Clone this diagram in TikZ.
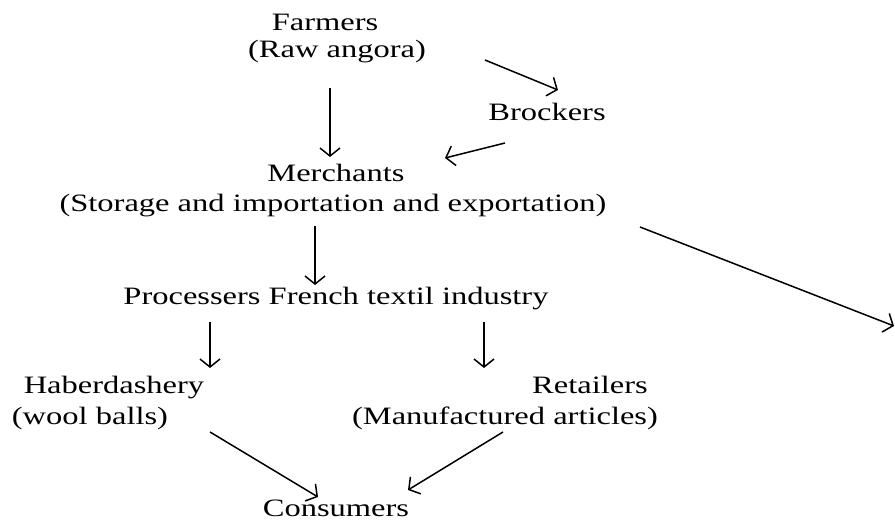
\documentclass[tikz,border=0pt]{standalone}
\usepackage{fontspec}
\setmainfont[FakeStretch=1.3]{Liberation Serif}
\usetikzlibrary{arrows.meta}
\tikzset{
  lbl/.style={anchor=base, inner sep=0pt, font=\fontsize{25}{30}\selectfont},
  arr/.style={line width=1.5pt, -{Straight Barb[length=8pt,width=20pt,line width=1.5pt]}}
}
\begin{document}
\begin{tikzpicture}[x=1pt,y=-1pt]
\useasboundingbox[fill=white] (0,0) rectangle (895,526);
\node[lbl] (farm) at (325,31) {Farmers};
\node[lbl] (farmsub) at (337,58) {(Raw angora)};
\node[lbl] (brock) at (547,121) {Brockers};
\node[lbl] (merch) at (336,182) {Merchants};
\node[lbl] (merchsub) at (333,212) {(Storage and importation and exportation)};
\node[lbl] (proc) at (336,305) {Processers French textil industry};
\node[lbl] (haber) at (114,394) {Haberdashery};
\node[lbl] (habersub) at (90,425) {(wool balls)};
\node[lbl] (retail) at (590,394) {Retailers};
\node[lbl] (retailsub) at (505,425) {(Manufactured articles)};
\node[lbl] (cons) at (336,517) {Consumers};
\coordinate (exportend) at (894,326);
% connectors
\draw[arr] ([xshift=-7pt,yshift=-30pt]farmsub.base) -- ([xshift=-6pt,yshift=25pt]merch.base);
\draw[arr] ([xshift=148pt,yshift=-2pt]farmsub.base) -- ([xshift=11pt,yshift=31pt]brock.base);
\draw[arr] ([xshift=-42pt,yshift=-22pt]brock.base) -- ([xshift=109pt,yshift=24pt]merch.base);
\draw[arr] ([xshift=-18pt,yshift=-14pt]merchsub.base) -- ([xshift=-21pt,yshift=20pt]proc.base);
\draw[arr] ([xshift=307pt,yshift=-15pt]merchsub.base) -- (exportend);
\draw[arr] ([xshift=-126pt,yshift=-17pt]proc.base) -- ([xshift=96pt,yshift=26pt]haber.base);
\draw[arr] ([xshift=148pt,yshift=-17pt]proc.base) -- ([xshift=-106pt,yshift=26pt]retail.base);
\draw[arr] ([xshift=120pt,yshift=-7pt]habersub.base) -- ([xshift=-18pt,yshift=20pt]cons.base);
\draw[arr] ([xshift=-2pt,yshift=-7pt]retailsub.base) -- ([xshift=72pt,yshift=27pt]cons.base);
\end{tikzpicture}
\end{document}
